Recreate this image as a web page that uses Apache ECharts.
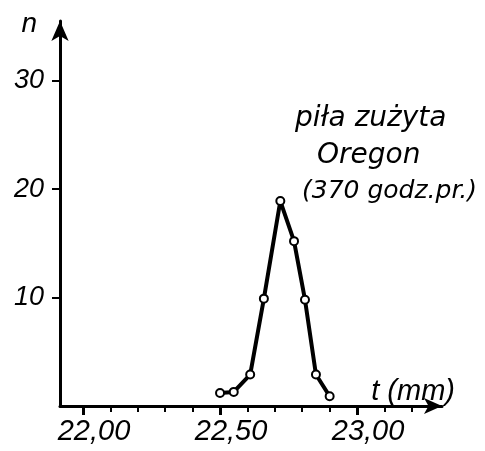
<!DOCTYPE html>
<html>
<head>
<meta charset="utf-8">
<script src="https://cdn.jsdelivr.net/npm/echarts@6/dist/echarts.min.js"></script>
<style>
html, body { margin: 0; padding: 0; background: #fff; }
#chart { width: 485px; height: 451px; }
</style>
</head>
<body>
<div id="chart"></div>
<script>
// grubość t (mm) i liczba n
var tValues = [22.50, 22.55, 22.61, 22.66, 22.72, 22.77, 22.81, 22.85, 22.90];
var nValues = [1.2, 1.3, 2.9, 9.9, 18.9, 15.2, 9.8, 2.9, 0.9];

var xMinorTicks = [22.1, 22.2, 22.3, 22.4, 22.6, 22.7, 22.8, 22.9, 23.1, 23.2];
var xMajorTicks = [22.0, 22.5, 23.0];
var yTicks = [10, 20, 30];
var noteLines = ['piła zużyta', 'Oregon', '(370 godz.pr.)'];

var font = 'Liberation Sans';
var noteFont = 'italic 28px "DejaVu Sans"';
var chart = echarts.init(document.getElementById('chart'));

var xRange = { min: 21.916, max: 23.31 };

chart.setOption({
    animation: false,
    grid: { left: 60, right: 43, top: 21, bottom: 45 },
    xAxis: [{
        type: 'value',
        min: xRange.min,
        max: xRange.max,
        splitLine: { show: false },
        axisLine: {
            lineStyle: { color: '#000', width: 3 },
            symbol: ['none', 'arrow'],
            symbolSize: [12, 18]
        },
        axisTick: {
            length: 6,
            lineStyle: { color: '#000', width: 2 },
            customValues: xMinorTicks
        },
        axisLabel: { show: false },
        name: 't (mm)',
        nameLocation: 'end',
        nameGap: 13,
        nameTextStyle: {
            fontFamily: font, fontStyle: 'italic', fontSize: 29, color: '#000',
            align: 'right', verticalAlign: 'bottom', padding: [0, 0, 0, 0]
        }
    }, {
        type: 'value',
        position: 'bottom',
        min: xRange.min,
        max: xRange.max,
        splitLine: { show: false },
        axisLine: { show: false },
        axisTick: {
            length: 9,
            lineStyle: { color: '#000', width: 3 },
            customValues: xMajorTicks
        },
        axisLabel: {
            customValues: xMajorTicks,
            margin: 11,
            padding: [0, 0, 0, 22],
            fontFamily: font, fontStyle: 'italic', fontSize: 29, color: '#000',
            formatter: function (v) { return v.toFixed(2).replace('.', ','); }
        }
    }],
    yAxis: {
        type: 'value',
        min: 0,
        max: 35.5,
        splitLine: { show: false },
        axisLine: {
            lineStyle: { color: '#000', width: 3 },
            symbol: ['none', 'arrow'],
            symbolSize: [13, 20]
        },
        axisTick: {
            length: 8,
            lineStyle: { color: '#000', width: 2 },
            customValues: yTicks
        },
        axisLabel: {
            customValues: yTicks,
            margin: 16,
            fontFamily: font, fontStyle: 'italic', fontSize: 27, color: '#000'
        },
        name: 'n',
        nameLocation: 'end',
        nameGap: -3,
        nameTextStyle: {
            fontFamily: font, fontStyle: 'italic', fontSize: 28, color: '#000',
            align: 'right', verticalAlign: 'middle', padding: [0, 23, 0, 0]
        }
    },
    series: [{
        type: 'line',
        xAxisIndex: 0,
        data: tValues.map(function (t, i) { return [t, nValues[i]]; }),
        lineStyle: { color: '#000', width: 4 },
        symbol: 'circle',
        symbolSize: 8,
        itemStyle: { color: '#fff', borderColor: '#000', borderWidth: 2 },
        z: 3
    }],
    graphic: [
        { type: 'text', left: 295, top: 105, style: { text: noteLines[0], font: noteFont, fill: '#000' } },
        { type: 'text', left: 317, top: 142, style: { text: noteLines[1], font: noteFont, fill: '#000' } },
        { type: 'text', left: 302, top: 179, style: { text: noteLines[2], font: 'italic 25px "DejaVu Sans"', fill: '#000' } }
    ]
});
</script>
</body>
</html>
